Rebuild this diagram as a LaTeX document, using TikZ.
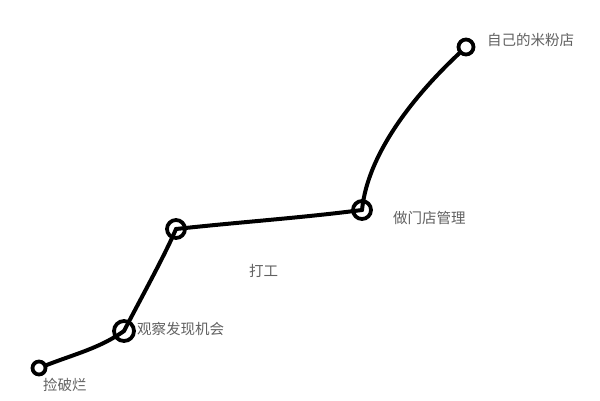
\documentclass[tikz,border=0pt]{standalone}
\usepackage{fontspec}
\newfontfamily\cjk{Noto Sans CJK SC}
\begin{document}
\begin{tikzpicture}[x=1pt,y=-1pt,
  stop/.style={circle,draw=black,line width=3.8pt,inner sep=0pt},
  lbl/.style={font=\cjk\fontsize{14.5}{16}\selectfont,text=black!62,inner sep=0pt,anchor=west},
  path/.style={line width=4pt,line cap=round,line join=round}]
\useasboundingbox[fill=white] (0,0) rectangle (600,400);
\node[stop,minimum size=13pt] (a) at (39,368) {};
\node[stop,minimum size=20pt] (b) at (124,331) {};
\node[stop,minimum size=18pt] (c) at (176,229) {};
\node[stop,minimum size=18pt] (d) at (362,210) {};
\node[stop,minimum size=15pt] (e) at (466,47) {};
\node[lbl] (la) at (43,385) {捡破烂};
\node[lbl] (lb) at (137,329) {观察发现机会};
\node[lbl] (lc) at (249,271) {打工};
\node[lbl] (ld) at (393,218) {做门店管理};
\node[lbl] (le) at (487,40) {自己的米粉店};
\draw[path] (a) .. controls (75,354) and (100,348) .. (b.center);
\draw[path] (b.center) .. controls (140,300) and (165,255) .. (c.center);
\draw[path] (c.center) .. controls (240,222) and (300,218) .. (d.center);
\draw[path] (d.center) .. controls (368,150) and (420,90) .. (e);
\end{tikzpicture}
\end{document}
